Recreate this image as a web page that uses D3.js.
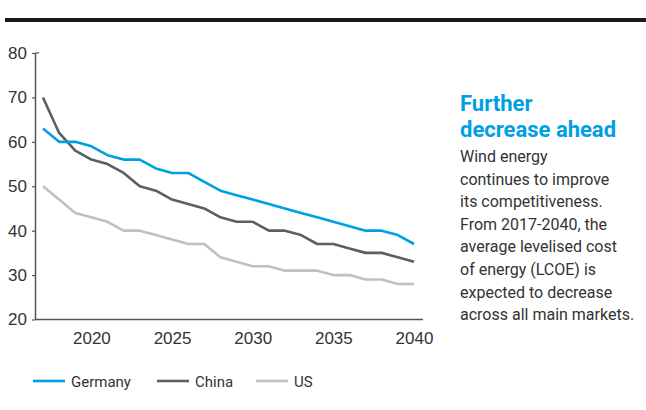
<!DOCTYPE html>
<html>
<head>
<meta charset="utf-8">
<script src="https://cdn.jsdelivr.net/npm/d3@7"></script>
<style>
  body { margin: 0; background: #fff; }
  svg { display: block; font-family: Roboto, "Noto Sans", sans-serif; }
</style>
</head>
<body>
<svg id="chart" width="646" height="410"></svg>
<script>
// LCOE by market, 2017-2040
var years = d3.range(2017, 2041);
var germany = [63, 60, 60, 59, 57, 56, 56, 54, 53, 53, 51, 49, 48, 47, 46, 45, 44, 43, 42, 41, 40, 40, 39, 37];
var china   = [70, 62, 58, 56, 55, 53, 50, 49, 47, 46, 45, 43, 42, 42, 40, 40, 39, 37, 37, 36, 35, 35, 34, 33];
var us      = [50, 47, 44, 43, 42, 40, 40, 39, 38, 37, 37, 34, 33, 32, 32, 31, 31, 31, 30, 30, 29, 29, 28, 28];
var yTicks = [20, 30, 40, 50, 60, 70, 80];
var xTicks = [2020, 2025, 2030, 2035, 2040];

var seriesNames = ['Germany', 'China', 'US'];
var seriesColors = ['#009fe3', '#5b5e63', '#c0c0c0'];

var titleLines = ['Further', 'decrease ahead'];
var bodyLines = ['Wind energy', 'continues to improve', 'its competitiveness.',
  'From 2017-2040, the', 'average levelised cost', 'of energy (LCOE) is',
  'expected to decrease', 'across all main markets.'];

var svg = d3.select('#chart');

// heavy rule on top
svg.append('rect').attr('x', 5).attr('y', 18).attr('width', 641).attr('height', 4).attr('fill', '#1a1a1a');

var x = d3.scaleLinear().domain([2017, 2040]).range([43, 414]);
var y = d3.scaleLinear().domain([20, 80]).range([319.5, 53]);

// y axis
var yAxis = svg.append('g').attr('transform', 'translate(35,0)')
  .call(d3.axisLeft(y).tickValues(yTicks).tickSize(3).tickSizeOuter(0).tickPadding(5));
yAxis.select('.domain').attr('stroke', '#555').attr('stroke-width', 1.5);
yAxis.selectAll('.tick line').attr('stroke', '#555').attr('stroke-width', 1.2);
yAxis.selectAll('.tick text').attr('font-size', 17).attr('fill', '#333').attr('font-family', 'inherit');
svg.append('line').attr('x1', 35).attr('x2', 39).attr('y1', y(80)).attr('y2', y(80))
  .attr('stroke', '#555').attr('stroke-width', 1.2);

// x axis
var xAxis = svg.append('g').attr('transform', 'translate(0,' + y(20) + ')')
  .call(d3.axisBottom(x).tickValues(xTicks).tickFormat(d3.format('d')).tickSize(0).tickPadding(12));
xAxis.select('.domain').remove();
xAxis.selectAll('.tick text').attr('font-size', 17).attr('fill', '#333').attr('font-family', 'inherit');
svg.append('line').attr('x1', 35).attr('x2', 423).attr('y1', y(20)).attr('y2', y(20))
  .attr('stroke', '#555').attr('stroke-width', 1.5);

var line = d3.line()
  .x(function(d, i){ return x(years[i]); })
  .y(function(d){ return y(d); });

var allSeries = [us, china, germany];
var allColors = [seriesColors[2], seriesColors[1], seriesColors[0]];
svg.selectAll('path.series')
  .data(allSeries)
  .enter()
  .append('path')
  .attr('class', 'series')
  .attr('d', line)
  .attr('fill', 'none')
  .attr('stroke', function(d, i){ return allColors[i]; })
  .attr('stroke-width', 2.6)
  .attr('stroke-linejoin', 'round');

// legend
var legendX = [33, 157, 256];
var legend = svg.selectAll('g.legend')
  .data(seriesNames)
  .enter()
  .append('g')
  .attr('class', 'legend')
  .attr('transform', function(d, i){ return 'translate(' + legendX[i] + ',381)'; });
legend.append('line').attr('x1', 0).attr('x2', 32).attr('y1', 0).attr('y2', 0)
  .attr('stroke', function(d, i){ return seriesColors[i]; }).attr('stroke-width', 2.6);
legend.append('text').attr('x', 38).attr('y', 5.5).attr('font-size', 15).attr('fill', '#333')
  .text(function(d){ return d; });

// side note
svg.selectAll('text.title')
  .data(titleLines)
  .enter()
  .append('text')
  .attr('class', 'title')
  .attr('x', 460)
  .attr('y', function(d, i){ return 111 + i * 26; })
  .attr('font-size', 22).attr('font-weight', 700).attr('fill', '#009fe3')
  .text(function(d){ return d; });

svg.selectAll('text.body')
  .data(bodyLines)
  .enter()
  .append('text')
  .attr('class', 'body')
  .attr('x', 460)
  .attr('y', function(d, i){ return 162 + i * 22.6; })
  .attr('font-size', 16).attr('fill', '#333')
  .text(function(d){ return d; });
</script>
</body>
</html>
